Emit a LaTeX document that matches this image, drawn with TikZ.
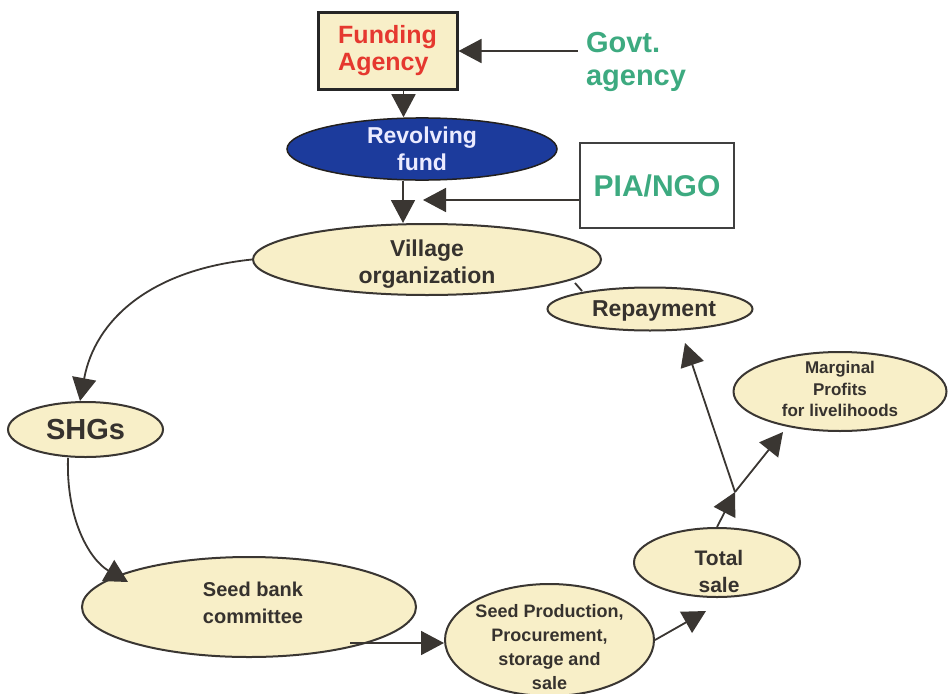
\documentclass[tikz,border=0pt]{standalone}
\usepackage{fontspec}
\setmainfont{Liberation Sans}
\usetikzlibrary{arrows.meta,shapes.geometric}
\definecolor{cream}{HTML}{F8EFC8}
\definecolor{dtext}{HTML}{36322E}
\definecolor{gtext}{HTML}{3DAA80}
\definecolor{rtext}{HTML}{E5382F}
\definecolor{bluefill}{HTML}{1C3B9C}
\definecolor{edge}{HTML}{3A3632}
\tikzset{
  oval/.style={ellipse, draw=edge, line width=2pt, fill=cream, inner sep=0pt, align=center, text=dtext, font=\bfseries},
  lbl/.style={align=center, text=dtext, inner sep=0pt},
  conn/.style={draw=edge, line width=1.8pt, -{Triangle[length=23pt,width=24pt]}},
  plain/.style={draw=edge, line width=1.8pt},
}
\begin{document}
\begin{tikzpicture}[x=1pt,y=-1pt]
\useasboundingbox[fill=white] (0,0) rectangle (949,693);
% nodes
\node[draw=black!85, line width=3pt, fill=cream, minimum width=139pt, minimum height=77pt, align=left, text=rtext,
  font=\fontsize{25}{27}\bfseries\selectfont] (fund) at (387.5,51) {Funding\\Agency};
\node[align=left, text=gtext, font=\fontsize{29}{33}\bfseries\selectfont, inner sep=0pt] (govt) at (636,62) {Govt.\\agency};
\node[ellipse, draw=edge!60!black, line width=1.5pt, fill=bluefill, minimum width=270pt, minimum height=62pt, inner sep=0pt,
  align=center, text=white!92!blue, font=\fontsize{23}{27}\bfseries\selectfont] (rev) at (422,149) {Revolving\\fund};
\node[draw=black!75, line width=2.5pt, fill=white, minimum width=154pt, minimum height=85pt, text=gtext,
  font=\fontsize{30}{32}\bfseries\selectfont] (pia) at (657,185.5) {PIA/NGO};
\node[oval, minimum width=348pt, minimum height=71pt] (vil) at (427,259.5) {};
\node[lbl, font=\fontsize{23}{27}\bfseries\selectfont] (viltext) at (427,264) {Village\\organization};
\node[oval, minimum width=205pt, minimum height=43pt] (rep) at (650,309) {};
\node[lbl, font=\fontsize{23}{27}\bfseries\selectfont] (reptext) at (654,311) {Repayment};
\node[oval, minimum width=213pt, minimum height=79pt] (marg) at (840,391.5) {};
\node[lbl, font=\fontsize{17}{21.5}\bfseries\selectfont] (margtext) at (840,389) {Marginal\\Profits\\for livelihoods};
\node[oval, minimum width=155pt, minimum height=55pt, font=\fontsize{29}{32}\bfseries\selectfont] (shg) at (85.5,429.5) {SHGs};
\node[oval, minimum width=166pt, minimum height=69pt] (tot) at (717,562.5) {};
\node[lbl, font=\fontsize{21}{27}\bfseries\selectfont] (tottext) at (719,571) {Total\\sale};
\node[oval, minimum width=334pt, minimum height=100pt] (sbc) at (249,607) {};
\node[lbl, font=\fontsize{20}{27}\bfseries\selectfont] (sbctext) at (253,603) {Seed bank\\committee};
\node[oval, minimum width=209pt, minimum height=112pt] (sp) at (549.5,640) {};
\node[lbl, font=\fontsize{18}{24}\bfseries\selectfont] (sptext) at (549.5,647) {Seed Production,\\Procurement,\\storage and\\sale};
% coordinates
\coordinate (piaend) at (423,200);
\coordinate (junc) at (735,492);
\coordinate (sbcout) at (350,643);
\coordinate (totin) at (706,611);
\coordinate (margin) at (783,432);
\coordinate (repin) at (685,343);
\coordinate (sbcin) at (128,582);
\coordinate (rv1) at (575,283);
\coordinate (rv2) at (582,291);
% connectors
\draw[conn] (govt.west|-fund.east) ++(-8,0) coordinate (gstart) -- (fund.east);
\draw[conn] (fund.south) ++(16,0) coordinate (fs) -- (fs|-rev.north);
\draw[conn] (rev.south-|vil.north) ++(-24,0) coordinate (rs) -- (rs|-vil.north);
\draw[conn] (pia.west|-piaend) -- (piaend);
\draw[plain] (rv1) -- (rv2);
\draw[conn] (vil.west) .. controls (150,270) and (95,320) .. (shg.north-|80,0);
\draw[conn] (shg.south-|68,0) .. controls (66,520) and (90,560) .. (sbcin);
\draw[conn] (sbcout) -- (sp.west|-sbcout);
\draw[conn] (sp.east) -- (totin);
\draw[conn] (tot.north) -- (junc);
\draw[conn] (junc) -- (repin);
\draw[conn] (junc) -- (margin);
\end{tikzpicture}
\end{document}
